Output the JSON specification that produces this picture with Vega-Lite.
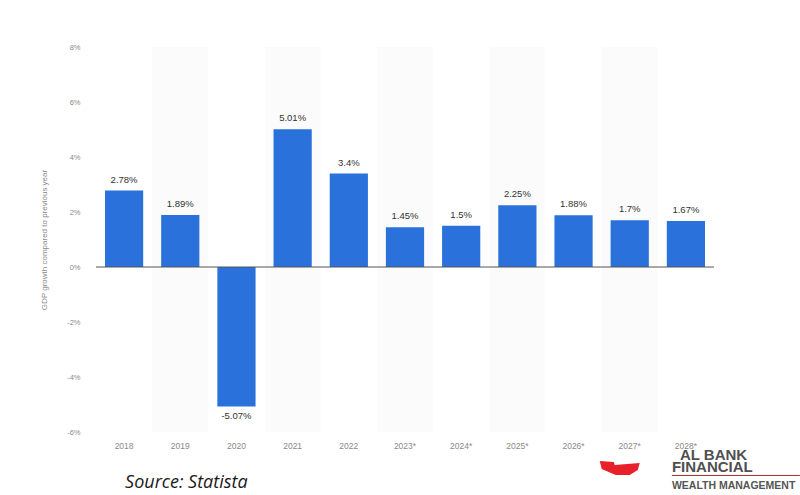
{
  "$schema": "https://vega.github.io/schema/vega-lite/v6.json",
  "width": 618,
  "height": 385,
  "autosize": {"type": "none"},
  "padding": {"left": 96, "top": 47, "right": 86, "bottom": 63},
  "background": "white",
  "config": {"view": {"stroke": null}, "font": "Liberation Sans"},
  "data": {
    "values": [
      {"year": "2018", "value": 2.78, "label": "2.78%", "shade": false},
      {"year": "2019", "value": 1.89, "label": "1.89%", "shade": true},
      {"year": "2020", "value": -5.07, "label": "-5.07%", "shade": false},
      {"year": "2021", "value": 5.01, "label": "5.01%", "shade": true},
      {"year": "2022", "value": 3.4, "label": "3.4%", "shade": false},
      {"year": "2023*", "value": 1.45, "label": "1.45%", "shade": true},
      {"year": "2024*", "value": 1.5, "label": "1.5%", "shade": false},
      {"year": "2025*", "value": 2.25, "label": "2.25%", "shade": true},
      {"year": "2026*", "value": 1.88, "label": "1.88%", "shade": false},
      {"year": "2027*", "value": 1.7, "label": "1.7%", "shade": true},
      {"year": "2028*", "value": 1.67, "label": "1.67%", "shade": false}
    ]
  },
  "encoding": {
    "x": {
      "field": "year",
      "type": "nominal",
      "sort": ["2018", "2019", "2020", "2021", "2022", "2023*", "2024*", "2025*", "2026*", "2027*", "2028*"],
      "scale": {"domain": ["2018", "2019", "2020", "2021", "2022", "2023*", "2024*", "2025*", "2026*", "2027*", "2028*"], "paddingInner": 0, "paddingOuter": 0},
      "axis": {
        "title": null,
        "labelAngle": 0,
        "domain": false,
        "ticks": false,
        "labelColor": "#8a8a8a",
        "labelFontSize": 8.5,
        "labelPadding": 9
      }
    }
  },
  "layer": [
    {
      "transform": [{"filter": "datum.shade"}],
      "mark": {"type": "bar", "color": "#000000", "opacity": 0.015},
      "encoding": {
        "y": {"datum": 8, "type": "quantitative"},
        "y2": {"datum": -6}
      }
    },
    {
      "mark": {"type": "bar", "color": "#2a71dc", "width": {"band": 0.68}},
      "encoding": {
        "y": {
          "field": "value",
          "type": "quantitative",
          "scale": {"domain": [-6, 8], "nice": false},
          "axis": {
            "title": "GDP growth compared to previous year",
            "titleColor": "#8a8a8a",
            "titleFontSize": 8,
            "titleFontWeight": "normal",
            "titlePadding": 18,
            "values": [-6, -4, -2, 0, 2, 4, 6, 8],
            "labelExpr": "datum.value + '%'",
            "labelColor": "#8a8a8a",
            "labelFontSize": 7.5,
            "labelPadding": 16,
            "domain": false,
            "ticks": false,
            "gridColor": "#ececec"
          }
        },
        "y2": {"datum": 0}
      }
    },
    {
      "data": {"values": [{}]},
      "mark": {"type": "rule", "color": "#555555", "strokeWidth": 1},
      "encoding": {"x": null, "y": {"datum": 0}}
    },
    {
      "transform": [{"filter": "datum.value >= 0"}],
      "mark": {"type": "text", "baseline": "bottom", "dy": -6, "fontSize": 9.5, "color": "#333333"},
      "encoding": {"y": {"field": "value", "type": "quantitative"}, "text": {"field": "label"}}
    },
    {
      "transform": [{"filter": "datum.value < 0"}],
      "mark": {"type": "text", "baseline": "top", "dy": 5, "fontSize": 9.5, "color": "#333333"},
      "encoding": {"y": {"field": "value", "type": "quantitative"}, "text": {"field": "label"}}
    },
    {
      "data": {"values": [{}]},
      "mark": {"type": "text", "align": "left", "baseline": "middle", "dx": 1, "font": "Open Sans", "fontStyle": "italic", "fontSize": 18, "color": "#1a1a1a"},
      "encoding": {"x": {"datum": "2018"}, "y": {"datum": -7.85}, "text": {"value": "Source: Statista"}}
    },
    {
      "data": {"values": [{}]},
      "mark": {"type": "text", "align": "left", "baseline": "middle", "dx": -6, "fontSize": 15, "fontWeight": "bold", "color": "#505050"},
      "encoding": {"x": {"datum": "2028*"}, "y": {"datum": -6.83}, "text": {"value": "AL BANK"}}
    },
    {
      "data": {"values": [{}]},
      "mark": {"type": "text", "align": "left", "baseline": "middle", "dx": -14, "fontSize": 15, "fontWeight": "bold", "color": "#505050"},
      "encoding": {"x": {"datum": "2028*"}, "y": {"datum": -7.27}, "text": {"value": "FINANCIAL"}}
    },
    {
      "data": {"values": [{}]},
      "mark": {"type": "text", "align": "left", "baseline": "middle", "dx": -14, "fontSize": 10.5, "fontWeight": "bold", "color": "#555555"},
      "encoding": {"x": {"datum": "2028*"}, "y": {"datum": -7.96}, "text": {"value": "WEALTH MANAGEMENT"}}
    },
    {
      "data": {"values": [{}]},
      "mark": {"type": "rule", "color": "#a03030", "strokeWidth": 1, "xOffset": -14, "x2Offset": 114},
      "encoding": {"x": {"datum": "2028*"}, "x2": {"datum": "2028*"}, "y": {"datum": -7.58}}
    },
    {
      "data": {"values": [{}]},
      "mark": {"type": "point", "filled": true, "color": "#e8202a", "opacity": 1, "shape": "M-1,-0.35 L-0.3,-0.3 L-0.25,-0.15 L1,-0.25 L0.9,0.1 L0.5,0.35 L-0.2,0.35 L-0.9,0.05 Z", "size": 1600, "xOffset": -10},
      "encoding": {"x": {"datum": "2027*"}, "y": {"datum": -7.31}}
    }
  ]
}
